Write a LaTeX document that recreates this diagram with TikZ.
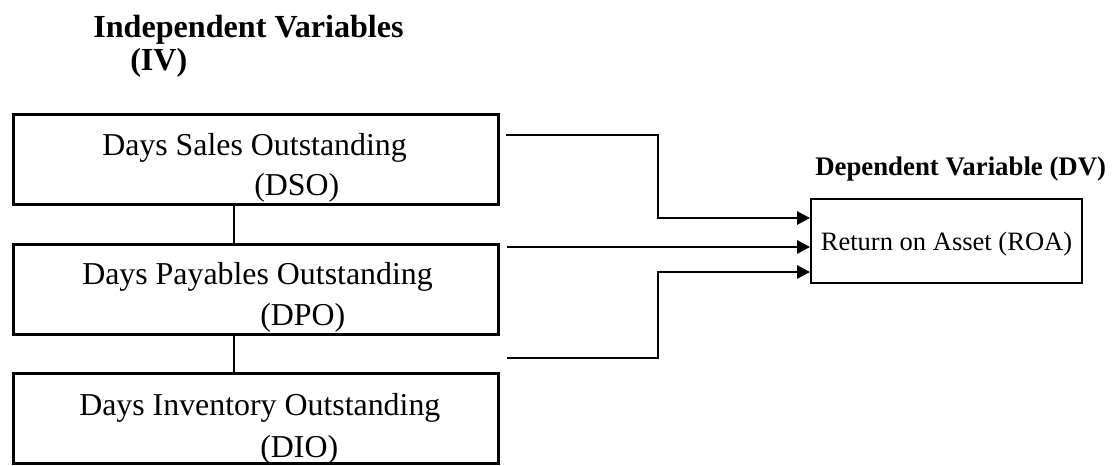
\documentclass[tikz,border=0pt]{standalone}
\usepackage{fontspec}
\setmainfont{Liberation Serif}
\usetikzlibrary{arrows.meta}
\begin{document}
\begin{tikzpicture}[x=0.75pt,y=-0.75pt,
  box/.style={draw,line width=2.25pt,minimum width=363.75pt,minimum height=67.5pt,inner sep=0pt},
  dvbox/.style={draw,line width=1.5pt,minimum width=203.25pt,minimum height=63pt,inner sep=0pt,
    text depth=0pt,font=\fontsize{19.9pt}{24pt}\selectfont},
  big/.style={font=\fontsize{23.9pt}{28pt}\selectfont,inner sep=0pt,anchor=base west},
  bigb/.style={big,font=\fontsize{24.1pt}{28pt}\selectfont\bfseries},
  smallb/.style={font=\fontsize{20.1pt}{24pt}\selectfont\bfseries,inner sep=0pt,anchor=base west},
  conn/.style={line width=1.5pt},
  arr/.style={line width=1.5pt,-{Triangle[length=9.75pt,width=10pt]}}
]
\useasboundingbox (0,0) rectangle (1119,465);

% titles
\node[bigb] (t1) at (93,37) {Independent Variables};
\node[bigb] (t2) at (130,70) {(IV)};
\node[smallb] (t3) at (815,175) {Dependent Variable (DV)};

% boxes
\node[box] (dso) at (256,159) {};
\node[box] (dpo) at (256,289.5) {};
\node[box] (dio) at (256,418.5) {};
\node[dvbox] (roa) at (946.5,241) {Return on Asset (ROA)};

% box texts
\node[big] (dsoA) at (102,155) {Days Sales Outstanding};
\node[big] (dsoB) at (254,195) {(DSO)};
\node[big] (dpoA) at (82,284) {Days Payables Outstanding};
\node[big] (dpoB) at (260,325) {(DPO)};
\node[big] (dioA) at (79,415) {Days Inventory Outstanding};
\node[big] (dioB) at (260,457) {(DIO)};

% vertical links
\draw[conn] ([xshift=-16.5pt]dso.south) -- ([xshift=-16.5pt]dpo.north);
\draw[conn] ([xshift=-16.5pt]dpo.south) -- ([xshift=-16.5pt]dio.north);

% arrows
\coordinate (s1) at (506,135);
\coordinate (s2) at (507,247);
\coordinate (s3) at (507,358);
\coordinate (k1) at (658,218);
\coordinate (k3) at (658,272);
\draw[arr] (s1) -| (k1) -- (k1 -| roa.west);
\draw[arr] (s2) -- (s2 -| roa.west);
\draw[arr] (s3) -| (k3) -- (k3 -| roa.west);
\end{tikzpicture}
\end{document}
